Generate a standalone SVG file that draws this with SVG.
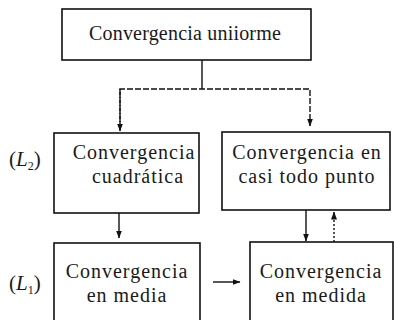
<svg xmlns="http://www.w3.org/2000/svg" width="394" height="320" viewBox="0 0 394 320">
<style>
.box{fill:#fff;stroke:#111;stroke-width:1.6}
.t{font-family:"Liberation Serif","Times New Roman",serif;font-size:20px;fill:#1a1a1a;text-anchor:middle;letter-spacing:1px}
.top{letter-spacing:0.2px}
.lab{font-family:"Liberation Serif","Times New Roman",serif;font-size:21px;fill:#1a1a1a}
.c{fill:none;stroke:#111;stroke-width:1.4}
.dash{stroke-dasharray:6,2}
.dot{stroke-dasharray:2,2}
</style>
<defs>
<marker id="ah" viewBox="0 0 8 8" refX="7.5" refY="4" markerWidth="8" markerHeight="8" markerUnits="userSpaceOnUse" orient="auto">
<path d="M0,1 L8,4 L0,7 Z" fill="#111"/>
</marker>
</defs>
<rect width="394" height="320" fill="#fff"/>
<g id="connectors">
<line class="c" x1="202" y1="60" x2="202" y2="89"/>
<polyline class="c dash" points="120,130 120,89 310,89 310,126" marker-end="url(#ah)"/>
<line class="c dash" x1="120" y1="89" x2="120" y2="131" marker-end="url(#ah)"/>
<line class="c" x1="119" y1="213" x2="119" y2="238" marker-end="url(#ah)"/>
<line class="c" x1="306" y1="210" x2="306" y2="241" marker-end="url(#ah)"/>
<line class="c dot" x1="334" y1="242" x2="334" y2="212" marker-end="url(#ah)"/>
<line class="c" x1="213" y1="282" x2="240" y2="282" marker-end="url(#ah)"/>
</g>
<g id="uniforme">
<rect class="box" x="62" y="9" width="249" height="51"/>
<text class="t top" x="185" y="40">Convergencia uniiorme</text>
</g>
<g id="cuadratica">
<rect class="box" x="54" y="133" width="145" height="80"/>
<text class="t" x="134" y="159">Convergencia</text>
<text class="t" x="138" y="183">cuadrática</text>
</g>
<g id="ctp">
<rect class="box" x="222" y="132" width="168" height="78"/>
<text class="t" x="307" y="159">Convergencia en</text>
<text class="t" x="307" y="183">casi todo punto</text>
</g>
<g id="media">
<rect class="box" x="54" y="243" width="146" height="90"/>
<text class="t" x="127" y="278">Convergencia</text>
<text class="t" x="127" y="302">en media</text>
</g>
<g id="medida">
<rect class="box" x="250" y="242" width="143" height="90"/>
<text class="t" x="321" y="278">Convergencia</text>
<text class="t" x="321" y="302">en medida</text>
</g>
<g id="labels">
<text class="lab" x="9" y="166">(<tspan font-style="italic">L</tspan><tspan font-size="12" dy="4">2</tspan><tspan dy="-4">)</tspan></text>
<text class="lab" x="9" y="290">(<tspan font-style="italic">L</tspan><tspan font-size="12" dy="4">1</tspan><tspan dy="-4">)</tspan></text>
</g>
</svg>
